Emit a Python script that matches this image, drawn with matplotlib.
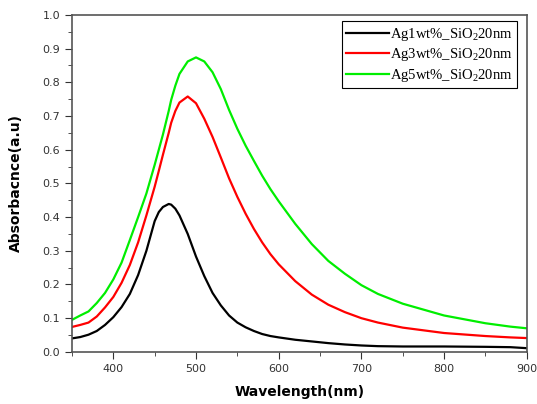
import matplotlib
matplotlib.use('Agg')
import matplotlib.pyplot as plt
from matplotlib.ticker import MultipleLocator

plt.rcParams['mathtext.fontset'] = 'custom'
plt.rcParams['mathtext.rm'] = 'Liberation Serif'
plt.rcParams['mathtext.it'] = 'Liberation Serif:italic'

# Wavelength (nm) and absorbance readings for each sample
wavelength = [350, 360, 370, 380, 390, 400, 410, 420, 430, 440, 450, 455, 460, 467, 470, 475,
              480, 490, 500, 510, 520, 530, 540, 550, 560, 570, 580, 590, 600,
              620, 640, 660, 680, 700, 720, 750, 800, 850, 880, 900]

ag1 = [0.040, 0.044, 0.051, 0.062, 0.080, 0.103, 0.133, 0.172, 0.228, 0.300, 0.388, 0.415, 0.430, 0.439, 0.437, 0.425,
       0.405, 0.350, 0.283, 0.225, 0.175, 0.138, 0.108, 0.087, 0.073, 0.062, 0.053, 0.047, 0.043,
       0.036, 0.031, 0.026, 0.022, 0.019, 0.017, 0.016, 0.016, 0.015, 0.014, 0.011]

ag3 = [0.074, 0.080, 0.087, 0.105, 0.132, 0.163, 0.205, 0.258, 0.325, 0.405, 0.490, 0.537, 0.585, 0.650, 0.680, 0.715,
       0.740, 0.758, 0.738, 0.692, 0.638, 0.577, 0.515, 0.460, 0.410, 0.365, 0.325, 0.290, 0.260,
       0.210, 0.170, 0.140, 0.118, 0.100, 0.087, 0.072, 0.056, 0.047, 0.043, 0.041]

ag5 = [0.095, 0.108, 0.120, 0.145, 0.175, 0.215, 0.265, 0.332, 0.400, 0.470, 0.555, 0.600, 0.645, 0.715, 0.748, 0.790,
       0.825, 0.862, 0.874, 0.862, 0.830, 0.780, 0.718, 0.662, 0.612, 0.567, 0.523, 0.483, 0.447,
       0.380, 0.320, 0.270, 0.232, 0.198, 0.172, 0.143, 0.108, 0.085, 0.075, 0.070]

labels = ['Ag1wt%_SiO$_2$20nm', 'Ag3wt%_SiO$_2$20nm', 'Ag5wt%_SiO$_2$20nm']
colors = ['black', '#ff0000', '#00ee00']

fig = plt.figure(figsize=(5.37, 4.04), dpi=100)
ax = fig.add_axes([0.134, 0.129, 0.847, 0.834])

for y, lab, c in zip([ag1, ag3, ag5], labels, colors):
    ax.plot(wavelength, y, color=c, lw=1.6, label=lab)

ax.set_xlim(350, 900)
ax.set_ylim(0, 1.0)
ax.xaxis.set_major_locator(MultipleLocator(100))
ax.xaxis.set_minor_locator(MultipleLocator(50))
ax.yaxis.set_major_locator(MultipleLocator(0.1))
ax.yaxis.set_minor_locator(MultipleLocator(0.05))
ax.tick_params(which='both', direction='out', top=False, right=False, color='#333333',
               labelsize=8, labelcolor='#333333')
ax.tick_params(which='major', length=5)
ax.tick_params(which='minor', length=3)
for sp in ax.spines.values():
    sp.set_color('#555555')
    sp.set_linewidth(1.2)

ax.set_xlabel('Wavelength(nm)', fontsize=10, fontweight='bold', labelpad=8)
ax.set_ylabel('Absorbacnce(a.u)', fontsize=10, fontweight='bold', labelpad=14)

leg = ax.legend(loc='upper right', bbox_to_anchor=(0.985, 0.99), fancybox=False,
                edgecolor='black', framealpha=1, handlelength=2.9, handletextpad=0.1,
                borderpad=0.3, labelspacing=0.25, borderaxespad=0.2,
                prop={'family': 'Liberation Serif', 'size': 10.5})
leg.get_frame().set_linewidth(0.8)

fig.savefig('out.png', dpi=100)
